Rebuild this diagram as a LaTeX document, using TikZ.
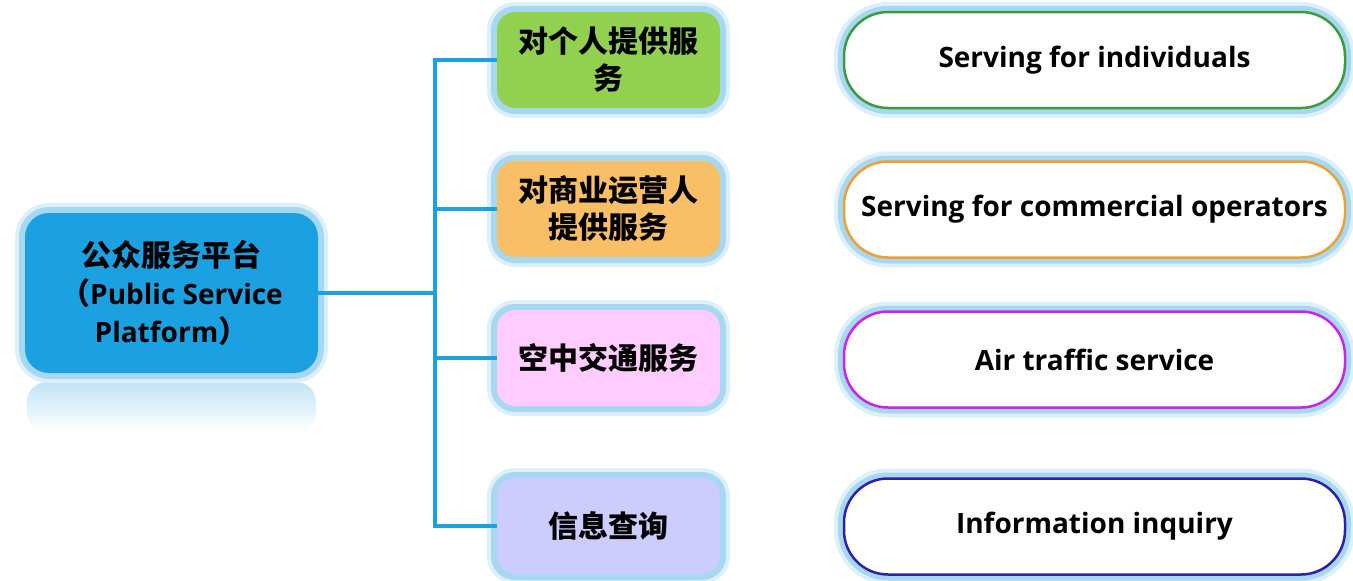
\documentclass[tikz,border=0pt]{standalone}
\usepackage{fontspec}
\setmainfont{Open Sans}
\newfontfamily\cjk{Noto Sans CJK SC}
\newcommand\zhtxt[1]{{\cjk\fontsize{30}{38}\selectfont #1}}
\definecolor{mainblue}{HTML}{1BA1E2}
\definecolor{glowA}{HTML}{A6D8F2}
\definecolor{glowB}{HTML}{DDF0FA}
\definecolor{cgreen}{HTML}{92D050}
\definecolor{corange}{HTML}{F8BF66}
\definecolor{cpink}{HTML}{FFCCFF}
\definecolor{clav}{HTML}{CCCCFF}
\definecolor{lgreen}{HTML}{3C9C3C}
\definecolor{lorange}{HTML}{F0A030}
\definecolor{lpurple}{HTML}{CC22EE}
\definecolor{lblue}{HTML}{2E1FB0}
\begin{document}
\begin{tikzpicture}[x=1pt,y=-1pt,
  glow/.style={preaction={draw=glowB,line width=20pt},preaction={draw=glowA,line width=12pt}},
  mainbox/.style={glow,fill=mainblue,rounded corners=24pt,minimum width=293pt,minimum height=160pt,
    align=center,inner sep=0pt,outer sep=0pt,font=\fontsize{28}{38}\selectfont\bfseries},
  childbox/.style={glow,rounded corners=18pt,minimum width=223pt,minimum height=96pt,
    align=center,inner sep=0pt,outer sep=0pt,font=\fontsize{30}{37}\selectfont\bfseries\cjk},
  pill/.style={glow,fill=white,line width=2.5pt,rounded corners=44pt,minimum width=501pt,minimum height=96pt,
    align=center,inner sep=0pt,outer sep=0pt,font=\fontsize{28}{32}\selectfont\bfseries},
  conn/.style={draw=mainblue,line width=4pt}]
\fill[white] (0,0) rectangle (1353,581);
\useasboundingbox (0,0) rectangle (1353,581);
% reflection under main box
\shade[top color=glowA!70,bottom color=white,rounded corners=20pt] (27,382) rectangle (316,432);
\node[mainbox] (main) at (171.5,293) {\zhtxt{公众服务平台}\\\zhtxt{（}Public Service\\Platform\zhtxt{）}};
\node[childbox,fill=cgreen] (c1) at (608.5,60) {对个人提供服\\务};
\node[childbox,fill=corange] (c2) at (608.5,209) {对商业运营人\\提供服务};
\node[childbox,fill=cpink] (c3) at (608.5,358) {空中交通服务};
\node[childbox,fill=clav] (c4) at (608.5,526) {信息查询};
\node[pill,draw=lgreen] (p1) at (1094.5,60) {Serving for individuals};
\node[pill,draw=lorange] (p2) at (1094.5,209.5) {Serving for commercial operators};
\node[pill,draw=lpurple] (p3) at (1094.5,359.5) {Air traffic service};
\node[pill,draw=lblue] (p4) at (1094.5,526.5) {Information inquiry};
\coordinate (bus) at (435,293);
\draw[conn] (c1.west) -- (c1.west -| bus) -- (c4.west -| bus) -- (c4.west);
\draw[conn] (main.east) -- (main.east -| bus);
\draw[conn] (c2.west -| bus) -- (c2.west);
\draw[conn] (c3.west -| bus) -- (c3.west);
\end{tikzpicture}
\end{document}
